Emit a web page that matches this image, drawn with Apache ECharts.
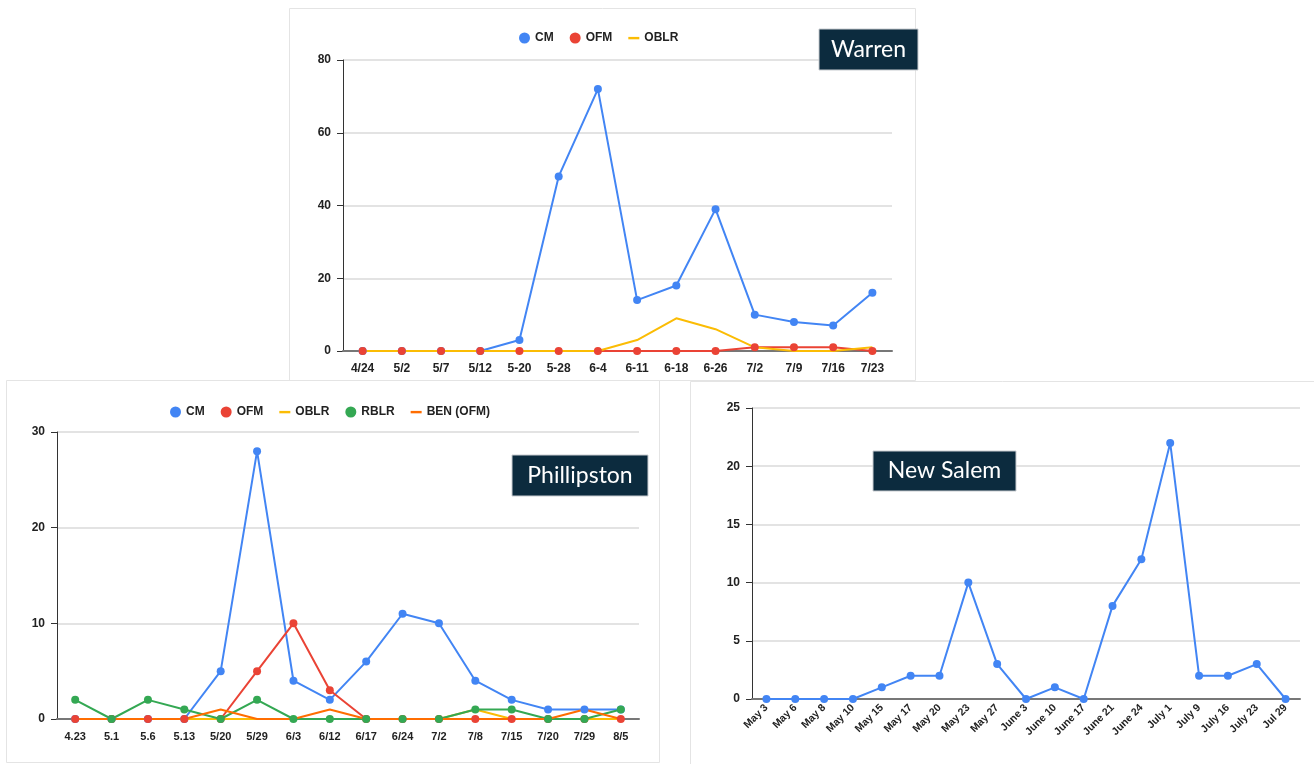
<!DOCTYPE html>
<html>
<head>
<meta charset="utf-8">
<script src="https://cdn.jsdelivr.net/npm/echarts@6/dist/echarts.min.js"></script>
<style>
html,body{margin:0;padding:0;background:#fff;}
#c{width:1314px;height:764px;}
</style>
</head>
<body>
<div id="c"></div>
<script>
// ---- Warren ----
const warrenDates = ['4/24','5/2','5/7','5/12','5-20','5-28','6-4','6-11','6-18','6-26','7/2','7/9','7/16','7/23'];
const warrenCM    = [0,0,0,0,3,48,72,14,18,39,10,8,7,16];
const warrenOFM   = [0,0,0,0,0,0,0,0,0,0,1,1,1,0];
const warrenOBLR  = [0,0,0,0,0,0,0,3,9,6,1,0,0,1];
const warrenTicks = [0,20,40,60,80];

// ---- Phillipston ----
const philDates = ['4.23','5.1','5.6','5.13','5/20','5/29','6/3','6/12','6/17','6/24','7/2','7/8','7/15','7/20','7/29','8/5'];
const philCM    = [0,0,0,0,5,28,4,2,6,11,10,4,2,1,1,1];
const philOFM   = [0,0,0,0,0,5,10,3,0,0,0,0,0,0,0,0];
const philOBLR  = [0,0,0,0,0,0,0,0,0,0,0,1,0,0,0,0];
const philRBLR  = [2,0,2,1,0,2,0,0,0,0,0,1,1,0,0,1];
const philBEN   = [0,0,0,0,1,0,0,1,0,0,0,0,0,0,1,0];
const philTicks = [0,10,20,30];

// ---- New Salem ----
const nsDates = ['May 3','May 6','May 8','May 10','May 15','May 17','May 20','May 23','May 27','June 3','June 10','June 17','June 21','June 24','July 1','July 9','July 16','July 23','Jul 29'];
const nsCM    = [0,0,0,0,1,2,2,10,3,0,1,0,8,12,22,2,2,3,0];
const nsTicks = [0,5,10,15,20,25];

const C = {CM:'#4285F4', OFM:'#EA4335', OBLR:'#FBBC04', RBLR:'#34A853', BEN:'#FF6D01'};
const FONT = '"Liberation Sans", Arial, sans-serif';
const lineIcon = 'path://M0,0 L0,0 M0,4 L10,4 L10,6.2 L0,6.2 Z M10,10 L10,10';

function xAxisCfg(gi, data, rotate, fs) {
  return {
    type:'category', gridIndex:gi, data:data, boundaryGap:true, z:3,
    axisLine:{lineStyle:{color:'#777', width:2}},
    axisTick:{alignWithLabel:true, length:5, lineStyle:{color:'#333', width:1}},
    axisLabel:{color:'#222', fontWeight:'bold', fontSize: fs, fontFamily:FONT,
      margin: rotate ? 7 : 12, rotate: rotate || 0, interval:0}
  };
}
function yAxisCfg(gi, ticks) {
  return {
    type:'value', gridIndex:gi, min:ticks[0], max:ticks[ticks.length-1], interval:ticks[1]-ticks[0],
    axisLine:{show:true, lineStyle:{color:'#333', width:1}},
    axisTick:{show:true, length:6, lineStyle:{color:'#333'}},
    splitLine:{lineStyle:{color:'#e3e3e3', width:2}},
    axisLabel:{color:'#222', fontWeight:'bold', fontSize:12, fontFamily:FONT, margin:12}
  };
}
function ser(name, data, color, gi, withSym) {
  return {
    name:name, type:'line', xAxisIndex:gi, yAxisIndex:gi, data:data,
    symbol: withSym ? 'circle' : 'none', symbolSize:8, showSymbol: withSym,
    lineStyle:{color:color, width:2}, itemStyle:{color:color},
    emphasis:{disabled:true}, animation:false
  };
}
function labelBox(x, y, w, h, text) {
  return [
    {type:'rect', z:100, zlevel:0, shape:{x:x,y:y,width:w,height:h}, style:{fill:'#0c2b3e', stroke:'#c8ccd0', lineWidth:1}},
    {type:'text', z:101, zlevel:0, x:x+w/2, y:y+h/2, style:{text:text, fill:'#fff', font:'23px Lato, "Open Sans", sans-serif', textAlign:'center', textVerticalAlign:'middle'}}
  ];
}
function panel(x, y, w, h) {
  return {type:'rect', shape:{x:x,y:y,width:w,height:h}, style:{fill:'#fff', stroke:'#e4e4e4', lineWidth:1}, z:-10, silent:true};
}

const chart = echarts.init(document.getElementById('c'), null, {renderer:'canvas'});
chart.setOption({
  backgroundColor:'#fff',
  animation:false,
  graphic:[
    panel(289.5, 8.5, 626, 372),
    panel(6.5, 380.5, 653, 382),
    panel(690.5, 381.5, 630, 390)
  ].concat(labelBox(819, 29, 99, 41, 'Warren'),
           labelBox(512, 455, 136, 41, 'Phillipston'),
           labelBox(873, 451, 143, 40, 'New Salem')),
  legend:[
    {left:514, top:27, itemWidth:11, itemHeight:11, itemGap:16,
     textStyle:{color:'#222', fontWeight:'bold', fontSize:12, fontFamily:FONT},
     data:[{name:'CM',icon:'circle'},{name:'OFM',icon:'circle'},{name:'OBLR',icon:lineIcon}]},
    {left:165, top:401, itemWidth:11, itemHeight:11, itemGap:16,
     textStyle:{color:'#222', fontWeight:'bold', fontSize:12, fontFamily:FONT},
     data:[{name:'CM',icon:'circle'},{name:'OFM',icon:'circle'},{name:'OBLR',icon:lineIcon},{name:'RBLR',icon:'circle'},{name:'BEN (OFM)',icon:lineIcon}]}
  ],
  grid:[
    {left:343, top:60, width:549, height:291},
    {left:57, top:432, width:582, height:287},
    {left:752, top:408, width:548, height:291}
  ],
  xAxis:[ xAxisCfg(0, warrenDates, 0, 12), xAxisCfg(1, philDates, 0, 11), xAxisCfg(2, nsDates, 45, 10.5) ],
  yAxis:[ yAxisCfg(0, warrenTicks), yAxisCfg(1, philTicks), yAxisCfg(2, nsTicks) ],
  series:[
    ser('CM', warrenCM, C.CM, 0, true),
    ser('OFM', warrenOFM, C.OFM, 0, true),
    ser('OBLR', warrenOBLR, C.OBLR, 0, false),
    ser('CM', philCM, C.CM, 1, true),
    ser('OFM', philOFM, C.OFM, 1, true),
    ser('OBLR', philOBLR, C.OBLR, 1, false),
    ser('RBLR', philRBLR, C.RBLR, 1, true),
    ser('BEN (OFM)', philBEN, C.BEN, 1, false),
    ser('New Salem CM', nsCM, C.CM, 2, true)
  ]
});
</script>
</body>
</html>
